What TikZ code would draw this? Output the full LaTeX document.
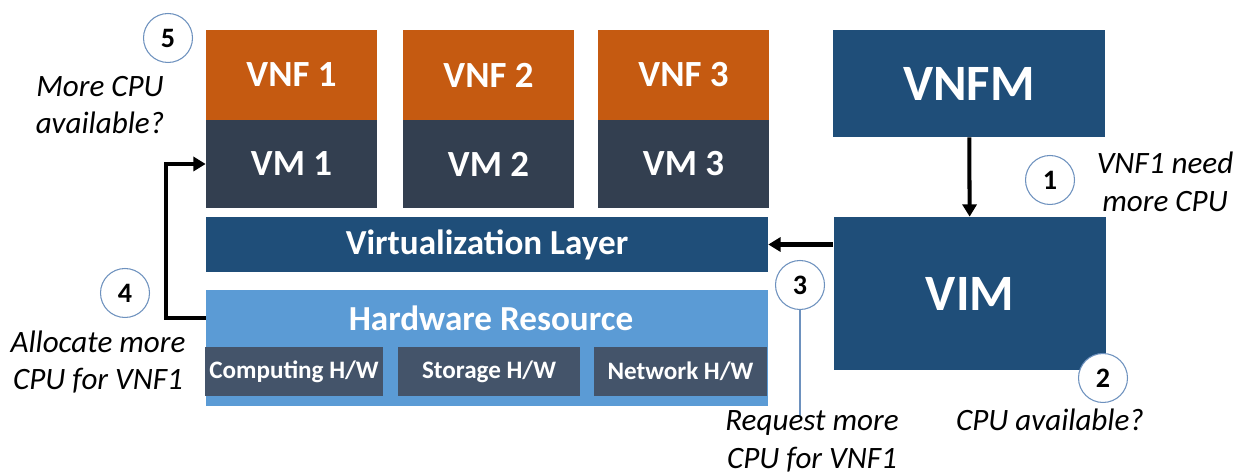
\documentclass[tikz,border=0pt]{standalone}
\usepackage{fontspec}
\setmainfont{Carlito}
\usetikzlibrary{arrows.meta}
\definecolor{vnforange}{HTML}{C55A11}
\definecolor{vmdark}{HTML}{333F50}
\definecolor{layerblue}{HTML}{1F4E79}
\definecolor{hwblue}{HTML}{5B9BD5}
\definecolor{hwbox}{HTML}{44546A}
\definecolor{stepring}{HTML}{6D91BE}
\begin{document}
\begin{tikzpicture}[x=0.02cm,y=-0.02cm,
    block/.style={inner sep=0pt, text=white, font=\bfseries\fontsize{20}{22}\selectfont},
    vnfbox/.style={block, fill=vnforange, minimum width=3.42cm, minimum height=1.8cm, font=\bfseries\fontsize{21}{23}\selectfont},
    vmbox/.style={block, fill=vmdark, minimum width=3.42cm, minimum height=1.76cm, font=\bfseries\fontsize{21}{23}\selectfont},
    bigbox/.style={block, fill=layerblue, minimum width=5.46cm, font=\bfseries\fontsize{29}{32}\selectfont},
    hwpart/.style={block, fill=hwbox, minimum height=0.98cm, font=\bfseries\fontsize{14.3}{16}\selectfont},
    stepno/.style={circle, draw=stepring, line width=0.6pt, fill=white, minimum size=0.98cm, inner sep=0pt, font=\bfseries\fontsize{16}{18}\selectfont},
    note/.style={align=center, font=\itshape\fontsize{17.7}{21.5}\selectfont},
    arr/.style={line width=2.3pt, -{Triangle[length=7pt,width=8pt]}}]
  % fixed page size
  \useasboundingbox (0,0) rectangle (1236,475);

  % VNFs and their VMs
  \node[vnfbox] (vnf1) at (291.5,75) {VNF 1};
  \node[vnfbox] (vnf2) at (488.5,75) {VNF 2};
  \node[vnfbox] (vnf3) at (683.5,75) {VNF 3};
  \node[vmbox] (vm1) at (291.5,164) {VM 1};
  \node[vmbox] (vm2) at (488.5,164) {VM 2};
  \node[vmbox] (vm3) at (683.5,164) {VM 3};

  % Virtualization and hardware
  \node[block, fill=layerblue, minimum width=11.24cm, minimum height=1.1cm] (virt) at (487,244.5) {Virtualization Layer};
  \node[block, fill=hwblue, minimum width=11.24cm, minimum height=2.32cm] (hw) at (487,348) {};
  \node[block, text=white] (hwlabel) at (491,318) {Hardware Resource};
  \node[hwpart, minimum width=3.56cm] (comp) at (294,371.5) {Computing H/W};
  \node[hwpart, minimum width=3.64cm] (stor) at (489,371.5) {Storage H/W};
  \node[hwpart, minimum width=3.46cm] (net) at (680.5,371.5) {Network H/W};

  % MANO
  \node[bigbox, minimum height=2.14cm] (vnfm) at (969,83.5) {VNFM};
  \node[bigbox, minimum height=3.06cm] (vim) at (970,293.5) {VIM};

  % arrows
  \draw[arr] (vnfm) -- (vim);
  \draw[arr] (vim.west |- virt) -- (virt.east);
  \draw[arr] (hw.west |- hwlabel) -- ++(-40,0) |- (vm1.west);

  % steps
  \node[stepno] (s1) at (1050,180) {1};
  \node[stepno] (s2) at (1103,378) {2};
  \node[stepno] (s3) at (800,285) {3};
  \node[stepno] (s4) at (125,293) {4};
  \node[stepno] (s5) at (168,38) {5};
  \coordinate (s3end) at (800,417);
  \draw[stepring, line width=0.6pt] (s3.south) -- (s3end);

  % step notes
  \node[note] (n1) at (1165,182) {VNF1 need\\more CPU};
  \node[note] (n2) at (1050,420) {CPU available?};
  \node[note] (n3) at (812,441) {Request more\\CPU for VNF1};
  \node[note] (n4) at (98,362) {Allocate more\\CPU for VNF1};
  \node[note] (n5) at (100,105) {More CPU\\available?};
\end{tikzpicture}
\end{document}
